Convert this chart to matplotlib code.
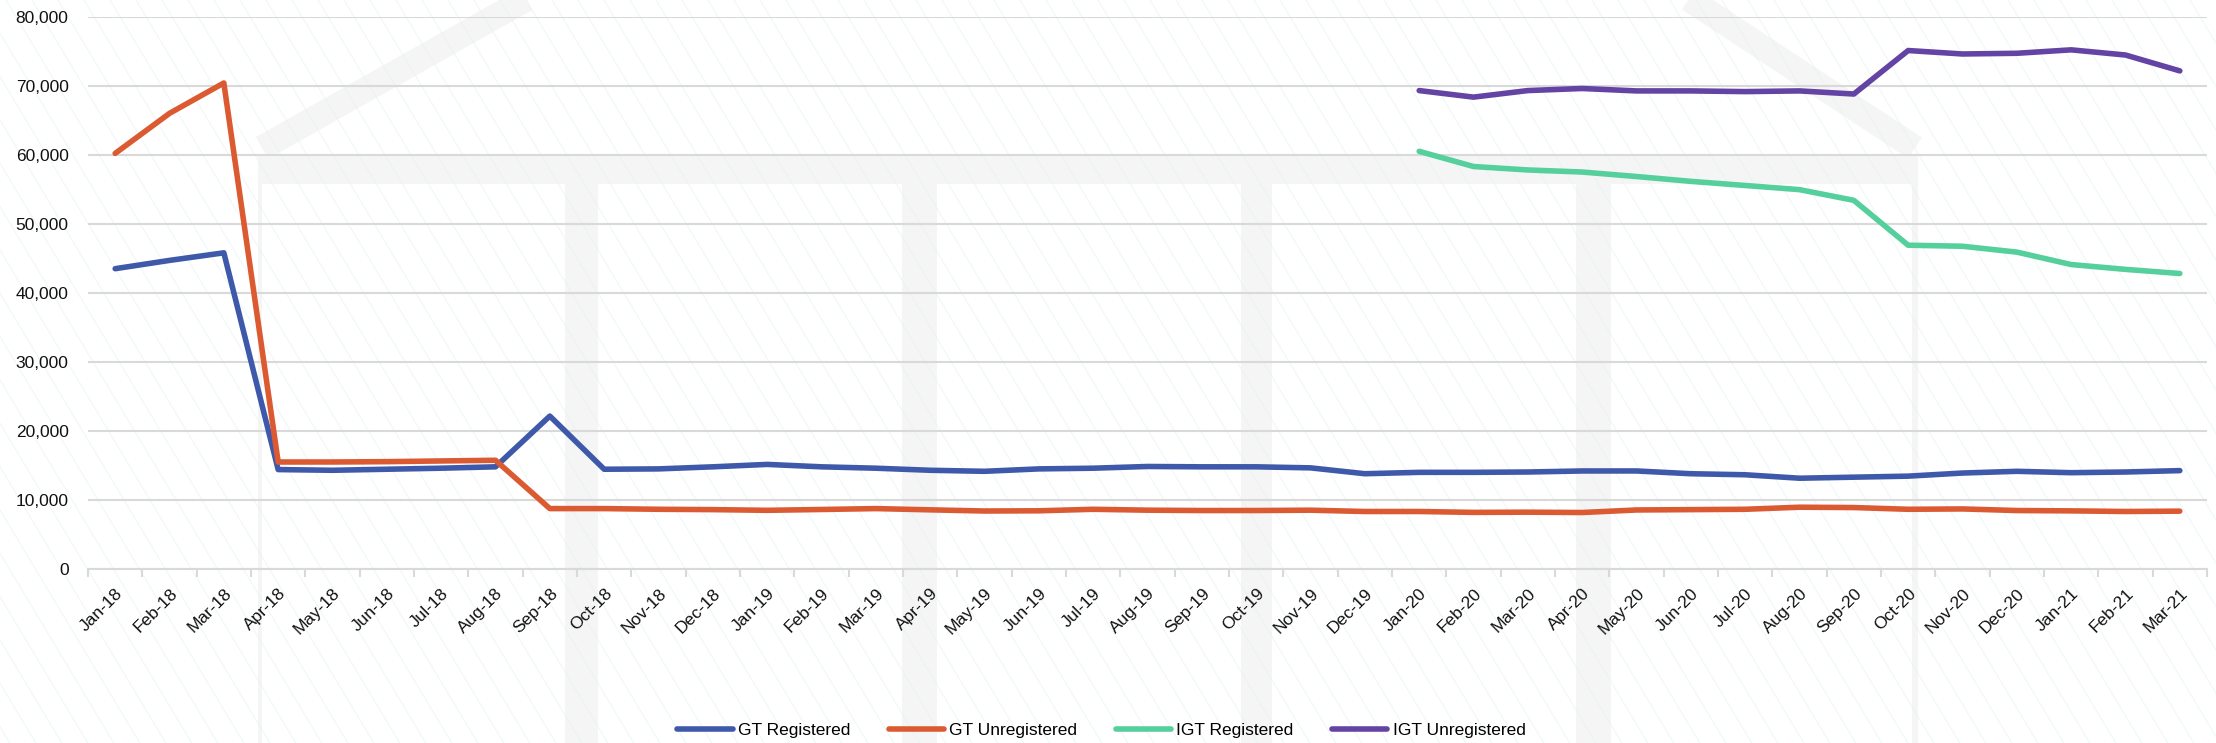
import matplotlib
matplotlib.use("Agg")
import matplotlib.pyplot as plt
from matplotlib.ticker import FuncFormatter, FixedLocator
import numpy as np

months = ["Jan-18", "Feb-18", "Mar-18", "Apr-18", "May-18", "Jun-18", "Jul-18", "Aug-18",
          "Sep-18", "Oct-18", "Nov-18", "Dec-18", "Jan-19", "Feb-19", "Mar-19", "Apr-19",
          "May-19", "Jun-19", "Jul-19", "Aug-19", "Sep-19", "Oct-19", "Nov-19", "Dec-19",
          "Jan-20", "Feb-20", "Mar-20", "Apr-20", "May-20", "Jun-20", "Jul-20", "Aug-20",
          "Sep-20", "Oct-20", "Nov-20", "Dec-20", "Jan-21", "Feb-21", "Mar-21"]

gt_registered = [43500, 44700, 45800, 14400, 14300, 14450, 14600, 14800,
                 22150, 14450, 14500, 14800, 15150, 14800, 14600, 14300,
                 14150, 14500, 14600, 14850, 14800, 14800, 14650, 13800,
                 14000, 14000, 14050, 14200, 14200, 13800, 13650, 13150,
                 13300, 13450, 13900, 14150, 13950, 14050, 14250]

gt_unregistered = [60200, 66000, 70400, 15500, 15500, 15550, 15650, 15750,
                   8750, 8750, 8650, 8600, 8500, 8620, 8750, 8570,
                   8400, 8430, 8650, 8520, 8470, 8470, 8520, 8330,
                   8330, 8200, 8230, 8180, 8550, 8600, 8650, 8950,
                   8900, 8650, 8700, 8470, 8420, 8330, 8380]

igt_start = 24  # Jan-20
igt_registered = [60500, 58300, 57800, 57500, 56850, 56150, 55550, 54950,
                  53400, 46900, 46750, 45900, 44100, 43400, 42800]
igt_unregistered = [69300, 68350, 69300, 69600, 69250, 69250, 69150, 69250,
                    68800, 75100, 74600, 74700, 75200, 74450, 72150]

series_names = ["GT Registered", "GT Unregistered", "IGT Registered", "IGT Unregistered"]
colors = ["#3F59AA", "#DC5A32", "#55CF9C", "#6343A3"]

plt.rcParams['font.family'] = ['Liberation Sans', 'DejaVu Sans']

W, H = 2216, 743
fig = plt.figure(figsize=(W / 100, H / 100), dpi=100)
fig.patch.set_facecolor("white")

# faint decorative background (diagonal hatch + watermark)
bg = fig.add_axes([0, 0, 1, 1], zorder=-10)
bg.set_xlim(0, W)
bg.set_ylim(H, 0)
bg.axis("off")
for x0 in np.arange(-800, W + 800, 26):
    bg.plot([x0, x0 + 0.6 * H], [0, H], color="#E2F4F4", lw=0.8, alpha=0.6)
wm = "#F5F5F5"
bg.add_patch(plt.Rectangle((258, 155), 1660, 29, color=wm, lw=0, zorder=1))
for (x0, x1) in [(258, 262), (565, 598), (902, 937), (1241, 1272), (1576, 1611), (1912, 1918)]:
    bg.add_patch(plt.Rectangle((x0, 155), x1 - x0, H - 155, color=wm, lw=0, zorder=1))
bg.plot([262, 560], [148, -20], color=wm, lw=18, solid_capstyle="butt", zorder=1)
bg.plot([1660, 1915], [-20, 148], color=wm, lw=18, solid_capstyle="butt", zorder=1)

ax = fig.add_axes([88 / W, 1 - 569 / H, (2207 - 88) / W, (569 - 16.7) / H])
ax.set_facecolor("none")

x = np.arange(len(months))
xi = np.arange(igt_start, igt_start + len(igt_registered))
kw = dict(lw=4.0, solid_joinstyle="round", solid_capstyle="round")
ax.plot(x, gt_registered, color=colors[0], label=series_names[0], **kw)
ax.plot(x, gt_unregistered, color=colors[1], label=series_names[1], **kw)
ax.plot(xi, igt_registered, color=colors[2], label=series_names[2], **kw)
ax.plot(xi, igt_unregistered, color=colors[3], label=series_names[3], **kw)

ax.set_xlim(-0.5, len(months) - 0.5)
ax.set_ylim(0, 80000)
ax.set_yticks(np.arange(0, 80001, 10000))
ax.yaxis.set_major_formatter(FuncFormatter(lambda v, p: f"{int(v):,}"))
ax.grid(axis="y", color="#D9D9D9", lw=1.5)
ax.set_axisbelow(True)
for s in ["top", "right", "left"]:
    ax.spines[s].set_visible(False)
ax.spines["bottom"].set_color("#D9D9D9")
ax.spines["bottom"].set_linewidth(1.5)

ax.set_xticks(x)
ax.set_xticklabels(months, rotation=45, ha="right", va="top", rotation_mode="anchor")
ax.tick_params(axis="x", which="major", length=0, pad=12, labelsize=12.5, labelcolor="#111111")
ax.xaxis.set_minor_locator(FixedLocator(np.arange(-0.5, len(months), 1.0)))
ax.tick_params(axis="x", which="minor", length=6, width=1.5, color="#D9D9D9")
ax.tick_params(axis="y", length=0, pad=14, labelsize=12.5, labelcolor="#111111")

fig.legend(loc="center", bbox_to_anchor=(0.497, 1 - 730 / H), ncol=4, frameon=False,
           fontsize=12.5, handlelength=3.2, columnspacing=2.2, handletextpad=0.3)

fig.savefig("out.png", dpi=100)
